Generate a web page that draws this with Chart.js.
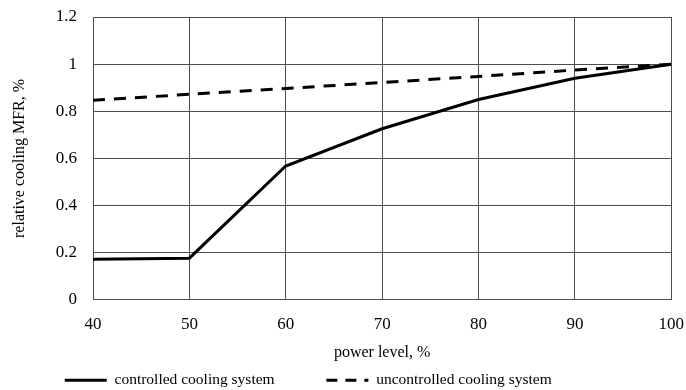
<!DOCTYPE html>
<html>
<head>
<meta charset="utf-8">
<script src="https://cdn.jsdelivr.net/npm/chart.js"></script>
<style>
  html, body { margin: 0; padding: 0; background: #fff; }
  #wrap { width: 686px; height: 390px; }
</style>
</head>
<body>
<div id="wrap"><canvas id="grafico"></canvas></div>
<script>
// power level, %
const nivelPotencia = [40, 50, 60, 70, 80, 90, 100];
// relative cooling MFR
const controlado = [0.172, 0.177, 0.568, 0.726, 0.85, 0.94, 1.0];
const naoControlado = [0.847, 0.872, 0.897, 0.922, 0.948, 0.975, 1.0];
const nomesSeries = ['controlled cooling system', 'uncontrolled cooling system'];

const fonte = 'Liberation Serif, Times New Roman, serif';
const corGrade = '#4d4d4d';

const pontos = (ys) => nivelPotencia.map((x, i) => ({ x: x, y: ys[i] }));

// item vazio usado so para dar espaco na legenda
const espacoLegenda = () => ({
    text: '', lineWidth: 1, strokeStyle: 'rgba(0,0,0,0)',
    fillStyle: 'rgba(0,0,0,0)', hidden: false
});

const ctx = document.getElementById('grafico');
new Chart(ctx, {
    type: 'line',
    data: {
        datasets: [{
            label: nomesSeries[0],
            data: pontos(controlado),
            borderColor: '#000',
            borderWidth: 3,
            pointRadius: 0,
            fill: false,
            tension: 0
        }, {
            label: nomesSeries[1],
            data: pontos(naoControlado),
            borderColor: '#000',
            borderWidth: 3,
            borderDash: [12, 9],
            pointRadius: 0,
            fill: false,
            tension: 0
        }]
    },
    options: {
        responsive: true,
        maintainAspectRatio: false,
        animation: false,
        layout: { padding: { left: 13, right: 13, top: 17, bottom: -8 } },
        plugins: {
            tooltip: { enabled: false },
            legend: {
                position: 'bottom',
                align: 'start',
                onClick: () => {},
                labels: {
                    usePointStyle: true,
                    pointStyle: 'line',
                    pointStyleWidth: 42,
                    padding: 1,
                    color: '#000',
                    font: { family: fonte, size: 15.5 },
                    generateLabels: (chart) => {
                        const itens = Chart.defaults.plugins.legend.labels.generateLabels(chart);
                        itens.forEach((it, i) => {
                            // tracejado da legenda: - - .
                            it.lineDash = chart.data.datasets[i].borderDash ? [11, 8] : [];
                            it.lineWidth = 3;
                            it.strokeStyle = '#000';
                        });
                        return [espacoLegenda(), itens[0], espacoLegenda(), itens[1]];
                    }
                }
            }
        },
        scales: {
            x: {
                type: 'linear',
                min: 40,
                max: 100,
                ticks: {
                    stepSize: 10,
                    color: '#000',
                    padding: 2,
                    font: { family: fonte, size: 17 }
                },
                grid: { color: corGrade, tickLength: 12, tickColor: 'rgba(0,0,0,0)' },
                border: { color: corGrade },
                title: {
                    display: true,
                    text: 'power level, %',
                    color: '#000',
                    padding: { top: 7, bottom: 9 },
                    font: { family: fonte, size: 16 }
                }
            },
            y: {
                min: 0,
                max: 1.2,
                ticks: {
                    stepSize: 0.2,
                    color: '#000',
                    padding: 2,
                    font: { family: fonte, size: 17 },
                    callback: (v) => String(Math.round(v * 10) / 10)
                },
                grid: { color: corGrade, tickLength: 14, tickColor: 'rgba(0,0,0,0)' },
                border: { color: corGrade },
                title: {
                    display: true,
                    text: 'relative cooling MFR, %',
                    color: '#000',
                    padding: { top: -3, bottom: 6 },
                    font: { family: fonte, size: 16 }
                },
                afterFit: (escala) => { escala.width = 80; }
            }
        }
    }
});
</script>
</body>
</html>
